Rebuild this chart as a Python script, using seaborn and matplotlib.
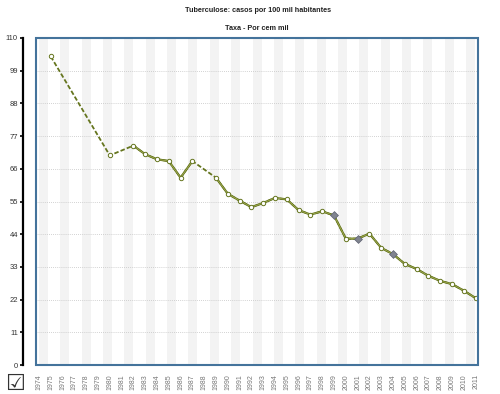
import numpy as np
import pandas as pd
import matplotlib
matplotlib.use("Agg")
import matplotlib.pyplot as plt
from matplotlib.patches import Rectangle
import seaborn as sns

# ---- data ----
years = [1974, 1975, 1976, 1977, 1978, 1979, 1980, 1981, 1982, 1983, 1984, 1985,
         1986, 1987, 1988, 1989, 1990, 1991, 1992, 1993, 1994, 1995, 1996, 1997,
         1998, 1999, 2000, 2001, 2002, 2003, 2004, 2005, 2006, 2007, 2008, 2009,
         2010, 2011]
taxa = [None, 103.8, None, None, None, None, 70.5, None, 73.8, 70.9, 69.2, 68.6,
        63.0, 68.6, None, 63.0, 57.6, 55.3, 53.1, 54.5, 56.2, 55.7, 52.1, 50.6,
        51.7, 50.3, 42.5, 42.5, 44.2, 39.4, 37.3, 34.0, 32.3, 30.0, 28.3, 27.2,
        25.0, 22.5]
estimated_years = [1999, 2001, 2004]
y_ticks = [0, 11, 22, 33, 44, 55, 66, 77, 88, 99, 110]
title = "Tuberculose: casos por 100 mil habitantes"
subtitle = "Taxa - Por cem mil"

df = pd.DataFrame({"year": years, "taxa": taxa})
df["pos"] = np.arange(len(df))
df["taxa"] = df["taxa"].astype(float)
df["run"] = df["taxa"].isna().cumsum()
valid = df.dropna(subset=["taxa"]).copy()
valid["est"] = valid["year"].isin(estimated_years)

sns.set_style("white")
plt.rcParams["font.family"] = ["Liberation Sans", "DejaVu Sans"]

fig = plt.figure(figsize=(5.0, 3.94), dpi=100)
ax = fig.add_axes([36 / 500, 1 - 365 / 394, (478 - 36) / 500, (365 - 38) / 394])

ax.set_xlim(-0.25, len(years) - 1 + 0.2)
ax.set_ylim(0, 110)

# background stripes (decoration, axes-fraction coords)
period = 21.35 / 442
w = 9 / 442
s = 3 / 442
while s < 1:
    ax.add_patch(Rectangle((s, 0), min(w, 1 - s), 1, transform=ax.transAxes,
                           facecolor="#f3f3f3", edgecolor="none", zorder=0))
    s += period

# dotted horizontal grid
for yv in y_ticks[1:-1]:
    ax.axhline(yv, color="#c4c4c4", linestyle=(0, (1, 1.5)), linewidth=0.6, zorder=1)

olive = "#65751e"
# dashed line through all valid points (gaps in the series)
sns.lineplot(data=valid, x="pos", y="taxa", ax=ax, color=olive, linewidth=1.3,
             linestyle=(0, (2.5, 1.2)), sort=False, estimator=None, zorder=2, legend=False)
# solid line for consecutive years
sns.lineplot(data=valid, x="pos", y="taxa", units="run", estimator=None, ax=ax,
             color=olive, linewidth=1.6, sort=False, zorder=3, legend=False)
sns.lineplot(data=valid, x="pos", y="taxa", units="run", estimator=None, ax=ax,
             color="#a8b25a", linewidth=0.5, sort=False, zorder=3, legend=False)

# markers
sns.scatterplot(data=valid[~valid["est"]], x="pos", y="taxa", ax=ax, marker="o",
                s=10, facecolor="white", edgecolor=olive, linewidth=0.7, zorder=4,
                legend=False)
sns.scatterplot(data=valid[valid["est"]], x="pos", y="taxa", ax=ax, marker="D",
                s=16, facecolor="#80848f", edgecolor="#5c6070", linewidth=0.5,
                zorder=5, legend=False)

# frame
for sp in ["top", "right", "bottom"]:
    ax.spines[sp].set_visible(False)
ax.add_patch(Rectangle((0, 0), 1, 1, transform=ax.transAxes, fill=False,
                       edgecolor="#44739b", linewidth=1.5, zorder=6, clip_on=False))
ax.spines["left"].set_visible(True)
ax.spines["left"].set_position(("outward", 9.5))
ax.spines["left"].set_color("black")
ax.spines["left"].set_linewidth(1.6)

ax.set_yticks(y_ticks)
ax.set_yticklabels([str(v) for v in y_ticks])
ax.tick_params(axis="y", length=2.5, width=1.2, color="black", pad=1,
               labelsize=5.5, labelcolor="#333333", left=True)
ax.set_xticks(df["pos"])
ax.set_xticklabels([str(y) for y in years], rotation=90, fontsize=5,
                   color="#777777", va="top")
ax.tick_params(axis="x", length=0, pad=6.5)
ax.set_xlabel("")
ax.set_ylabel("")

fig.text(258 / 500, 1 - 10 / 394, title, ha="center", va="center",
         fontsize=5.2, fontweight="bold", color="#222222")
fig.text(257 / 500, 1 - 28 / 394, subtitle, ha="center", va="center",
         fontsize=5.2, fontweight="bold", color="#222222")
fig.text(15 / 500, 1 - 384 / 394, "\u2611", ha="center", va="center",
         fontsize=16, color="#333333", family="DejaVu Sans")

fig.savefig("out.png", dpi=100)
